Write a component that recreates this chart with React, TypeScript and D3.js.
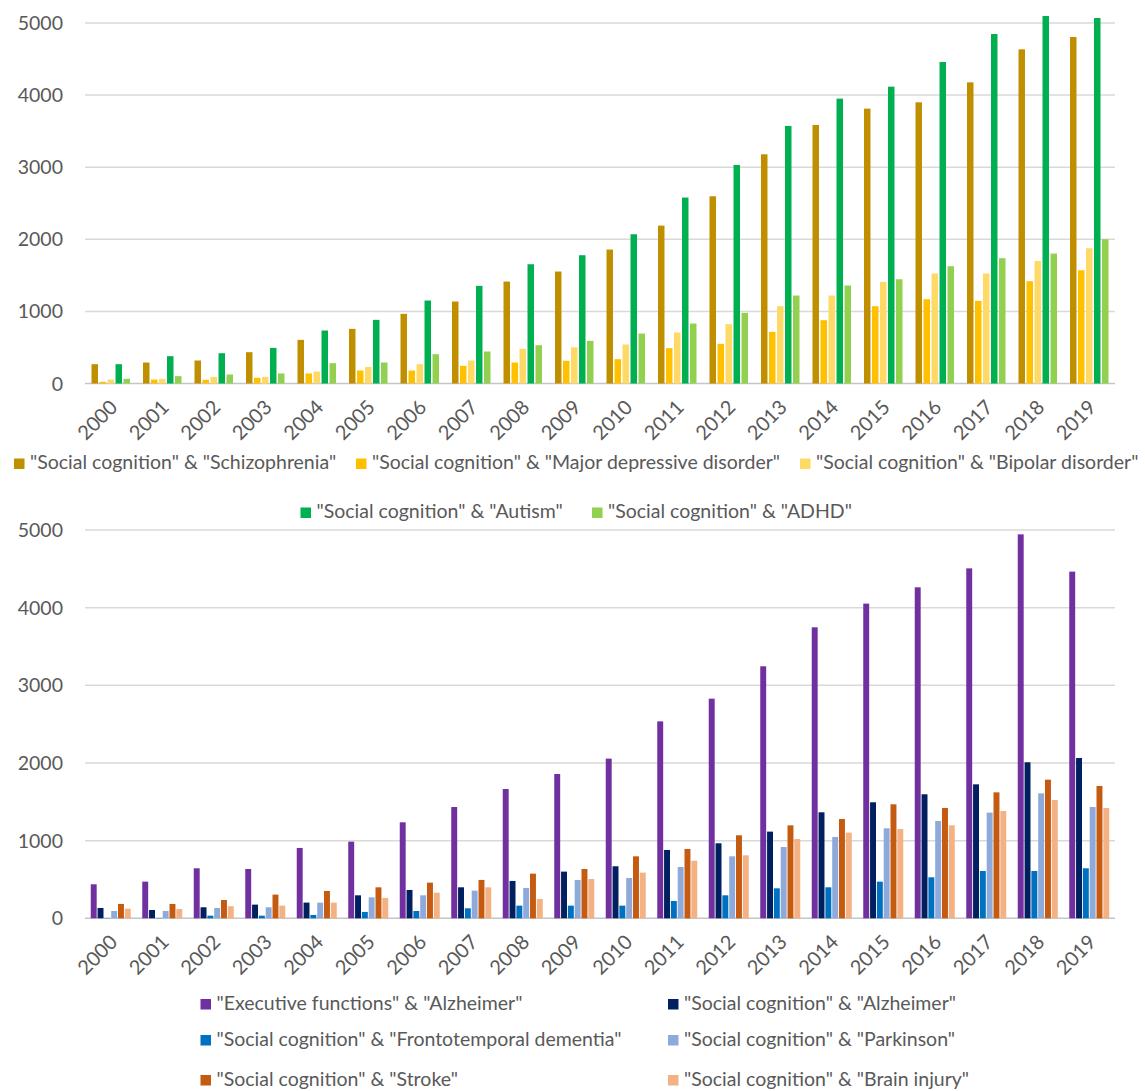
import React from 'react';
import { scaleBand, scaleLinear } from 'd3';

// years on the x axis (shared by both panels)
const years = ['2000', '2001', '2002', '2003', '2004', '2005', '2006', '2007', '2008', '2009',
  '2010', '2011', '2012', '2013', '2014', '2015', '2016', '2017', '2018', '2019'];
const yTicks = [0, 1000, 2000, 3000, 4000, 5000];

// top panel: psychiatric conditions
const schizophrenia = [268, 291, 319, 434, 605, 758, 966, 1137, 1414, 1553, 1858, 2190, 2597, 3179, 3586, 3812, 3900, 4177, 4635, 4806];
const majorDepression = [23, 55, 51, 79, 139, 180, 180, 245, 291, 315, 337, 490, 550, 716, 878, 1072, 1169, 1146, 1419, 1571];
const bipolar = [55, 65, 92, 92, 166, 231, 268, 319, 481, 502, 541, 707, 823, 1072, 1220, 1409, 1525, 1525, 1700, 1876];
const autism = [268, 379, 420, 494, 735, 883, 1151, 1354, 1654, 1779, 2070, 2579, 3031, 3572, 3951, 4117, 4459, 4847, 5097, 5069];
const adhd = [65, 102, 125, 139, 282, 291, 407, 444, 531, 592, 693, 832, 980, 1220, 1359, 1446, 1627, 1738, 1802, 2001];

// bottom panel: neurological conditions
const execAlzheimer = [438, 472, 644, 635, 906, 987, 1236, 1433, 1665, 1858, 2056, 2536, 2828, 3245, 3747, 4052, 4262, 4506, 4944, 4464];
const socAlzheimer = [133, 107, 142, 176, 202, 296, 365, 399, 481, 601, 670, 880, 966, 1116, 1365, 1494, 1597, 1725, 2009, 2064];
const ftd = [3, 4, 34, 34, 43, 82, 94, 129, 163, 163, 163, 223, 296, 386, 399, 472, 528, 609, 609, 644];
const parkinson = [94, 94, 133, 142, 202, 270, 296, 356, 391, 494, 519, 661, 798, 918, 1047, 1159, 1253, 1361, 1609, 1433];
const stroke = [185, 185, 236, 305, 352, 399, 459, 494, 575, 635, 798, 893, 1069, 1197, 1279, 1468, 1421, 1622, 1785, 1704];
const brainInjury = [124, 120, 155, 163, 202, 262, 330, 399, 249, 506, 588, 742, 811, 1021, 1103, 1150, 1197, 1382, 1524, 1421];

const topNames = [
  '"Social cognition" & "Schizophrenia"',
  '"Social cognition" & "Major depressive disorder"',
  '"Social cognition" & "Bipolar disorder"',
  '"Social cognition" & "Autism"',
  '"Social cognition" & "ADHD"',
];
const bottomNames = [
  '"Executive functions" & "Alzheimer"',
  '"Social cognition" & "Alzheimer"',
  '"Social cognition" & "Frontotemporal dementia"',
  '"Social cognition" & "Parkinson"',
  '"Social cognition" & "Stroke"',
  '"Social cognition" & "Brain injury"',
];

const topColors = ['#bf8f00', '#ffc000', '#ffd966', '#00b050', '#92d050'];
const bottomColors = ['#7030a0', '#002060', '#0070c0', '#8eaadb', '#c55a11', '#f4b183'];

const FONT = 'Lato, "Open Sans", sans-serif';
const TEXT = '#595959';

interface Series { name: string; color: string; values: number[] }
interface LegendPos { x: number; y: number }

interface PanelProps {
  series: Series[];
  top: number;      // y of the 5000 line
  bottom: number;   // y of the 0 line
  innerRange: [number, number];
  innerPad: number;
  legend: LegendPos[];
  legendSize: number;
}

const Panel: React.FC<PanelProps> = ({ series, top, bottom, innerRange, innerPad, legend, legendSize }) => {
  const x = scaleBand<string>().domain(years).range([85, 1115]);
  const xi = scaleBand<string>().domain(series.map(s => s.name)).range(innerRange).paddingInner(innerPad);
  const y = scaleLinear().domain([0, 5000]).range([bottom, top]);

  return (
    <g>
      {yTicks.map(t => (
        <g key={t}>
          <line x1={85} x2={1115} y1={y(t)} y2={y(t)} stroke={t === 0 ? '#c6c6c6' : '#d9d9d9'} strokeWidth={1.5} />
          <text x={63} y={y(t)} dy="0.36em" textAnchor="end" fontSize={19.5} fill={TEXT} fontFamily={FONT}>{t}</text>
        </g>
      ))}
      {series.map(s => (
        <g key={s.name} fill={s.color}>
          {s.values.map((v, i) => (
            <rect key={i} x={(x(years[i]) || 0) + (xi(s.name) || 0)} y={y(v)}
              width={xi.bandwidth()} height={bottom - y(v)} />
          ))}
        </g>
      ))}
      {years.map(yr => {
        const cx = (x(yr) || 0) + x.bandwidth() / 2 + 8;
        const cy = bottom + 25;
        return (
          <text key={yr} transform={`translate(${cx},${cy}) rotate(-45)`} textAnchor="end"
            fontSize={20} fill={TEXT} fontFamily={FONT}>{yr}</text>
        );
      })}
      {series.map((s, i) => (
        <g key={s.name} transform={`translate(${legend[i].x},${legend[i].y})`}>
          <rect x={0} y={-10.5} width={10.5} height={10.5} fill={s.color} />
          <text x={16} y={0} fontSize={legendSize} fill={TEXT} fontFamily={FONT}>{s.name}</text>
        </g>
      ))}
    </g>
  );
};

export default function App() {
  const topSeries: Series[] = [schizophrenia, majorDepression, bipolar, autism, adhd]
    .map((values, i) => ({ name: topNames[i], color: topColors[i], values }));
  const bottomSeries: Series[] = [execAlzheimer, socAlzheimer, ftd, parkinson, stroke, brainInjury]
    .map((values, i) => ({ name: bottomNames[i], color: bottomColors[i], values }));

  return (
    <div style={{ position: 'absolute', left: 0, top: 0 }}>
      <svg width={1145} height={1091} style={{ display: 'block', background: '#fff' }}>
        <Panel series={topSeries} top={23} bottom={383.5} innerRange={[6.5, 45]} innerPad={0.19} legendSize={19.5}
          legend={[{ x: 14, y: 469 }, { x: 356, y: 469 }, { x: 800, y: 469 }, { x: 300.5, y: 518 }, { x: 592, y: 518 }]} />
        <Panel series={bottomSeries} top={530} bottom={918.3} innerRange={[5.75, 45.75]} innerPad={0.13} legendSize={19.5}
          legend={[{ x: 200.5, y: 1009.5 }, { x: 668, y: 1009.5 }, { x: 200.5, y: 1045.5 }, { x: 668, y: 1045.5 },
            { x: 200.5, y: 1085.5 }, { x: 668, y: 1085.5 }]} />
      </svg>
    </div>
  );
}
